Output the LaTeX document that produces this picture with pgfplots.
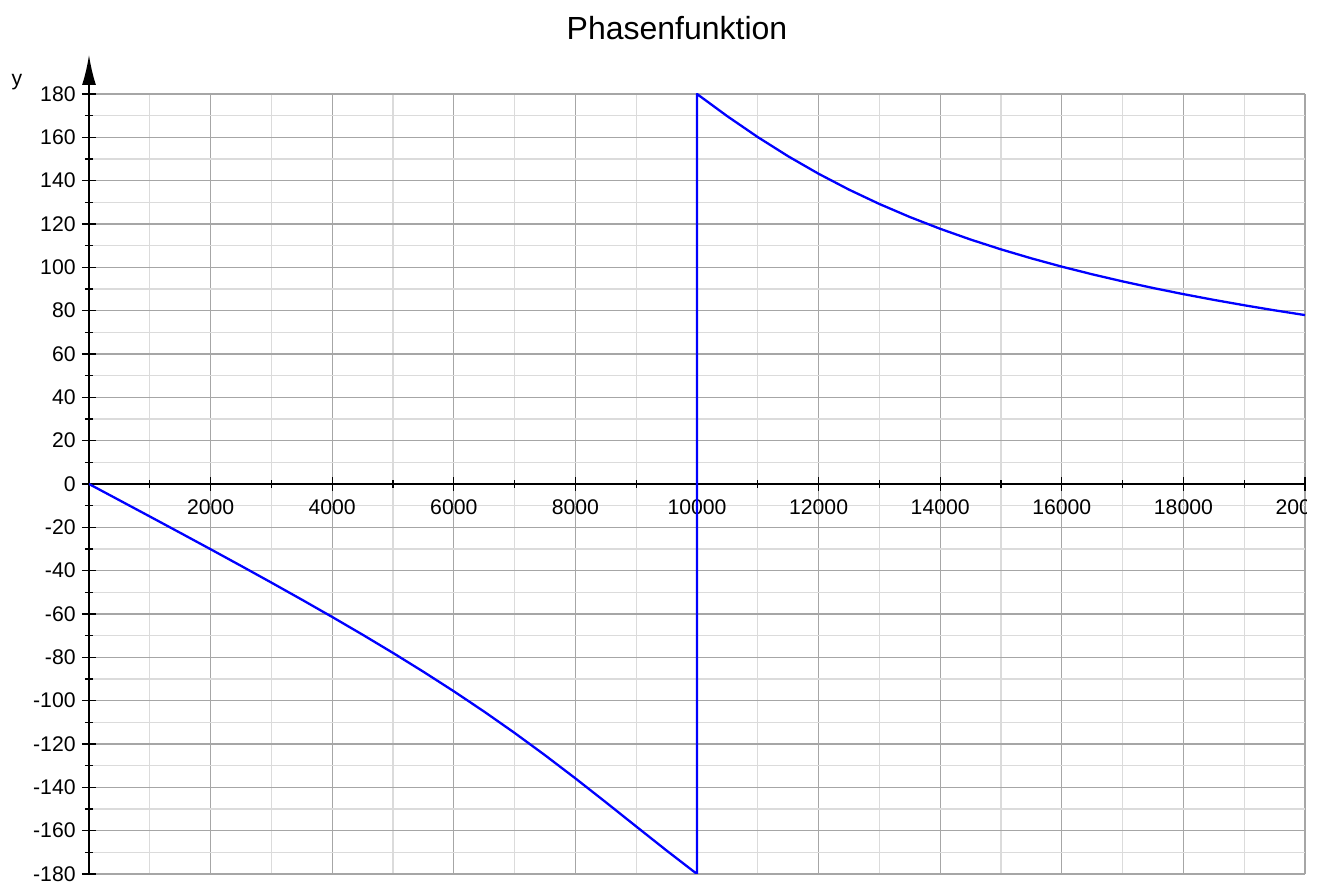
\documentclass[border=0pt]{standalone}
\usepackage{fontspec}
\setmainfont{Liberation Sans}
\usepackage{pgfplots}
\pgfplotsset{compat=1.18}
\usetikzlibrary{arrows.meta}
\begin{document}
\begin{tikzpicture}
\useasboundingbox (-44.5bp,-7.5bp) rectangle (616.5bp,437bp);
\clip (-44.5bp,-7.5bp) rectangle (608.6bp,437bp);
\begin{axis}[
  at={(0,0)}, anchor=south west,
  scale only axis, width=608bp, height=390bp,
  xmin=0, xmax=20000, ymin=-180, ymax=180,
  axis lines=middle,
  axis line style={line width=0.8bp, black},
  x axis line style={-},
  y axis line style={-{Latex[length=15bp,width=7bp]}, shorten >=-19.5bp},
  xtick={2000,4000,...,20000},
  minor xtick={1000,3000,...,19000},
  ytick={-180,-160,...,180},
  minor ytick={-170,-150,...,170},
  hide obscured x ticks=false,
  hide obscured y ticks=false,
  scaled x ticks=false,
  /pgf/number format/assume math mode=true,
  /pgf/number format/1000 sep={},
  tick align=center,
  major tick length=7bp,
  minor tick length=4bp,
  tick style={black, line width=0.6bp},
  grid=both,
  major grid style={color=black!35, line width=0.6bp},
  minor grid style={color=black!14, line width=0.6bp},
  tick label style={font=\fontsize{10.6bp}{12bp}\selectfont},
  xticklabel style={anchor=north, inner sep=0pt, yshift=-4bp},
  yticklabel style={anchor=east, inner sep=0pt, xshift=-3bp},
  ylabel={y},
  ylabel style={at={(axis description cs:0,1)}, anchor=base, rotate=0, xshift=-36bp, yshift=4bp, font=\fontsize{10.6bp}{12bp}\selectfont},
  title={Phasenfunktion},
  title style={at={(axis description cs:0.5,1)}, anchor=base, xshift=-10bp, yshift=21.5bp, font=\fontsize{16bp}{19bp}\selectfont},
]
\addplot[color=blue, line width=1.15bp, line join=round] coordinates {
(0,0) (500,-7.49) (1000,-14.99) (1500,-22.53) (2000,-30.11) (2500,-37.77)
(3000,-45.51) (3500,-53.37) (4000,-61.37) (4500,-69.55) (5000,-77.96)
(5500,-86.65) (6000,-95.66) (6500,-105.06) (7000,-114.89) (7500,-125.17)
(8000,-135.86) (8500,-146.88) (9000,-158.06) (9500,-169.18) (10000,-180)
(10000,180) (10500,169.71) (11000,160.10) (11500,151.25) (12000,143.18)
(12500,135.86) (13000,129.23) (13500,123.23) (14000,117.78) (14500,112.82)
(15000,108.29) (15500,104.14) (16000,100.31) (16500,96.78) (17000,93.51)
(17500,90.47) (18000,87.63) (18500,84.98) (19000,82.50) (19500,80.16)
(20000,77.96)
};
\end{axis}
\end{tikzpicture}
\end{document}
